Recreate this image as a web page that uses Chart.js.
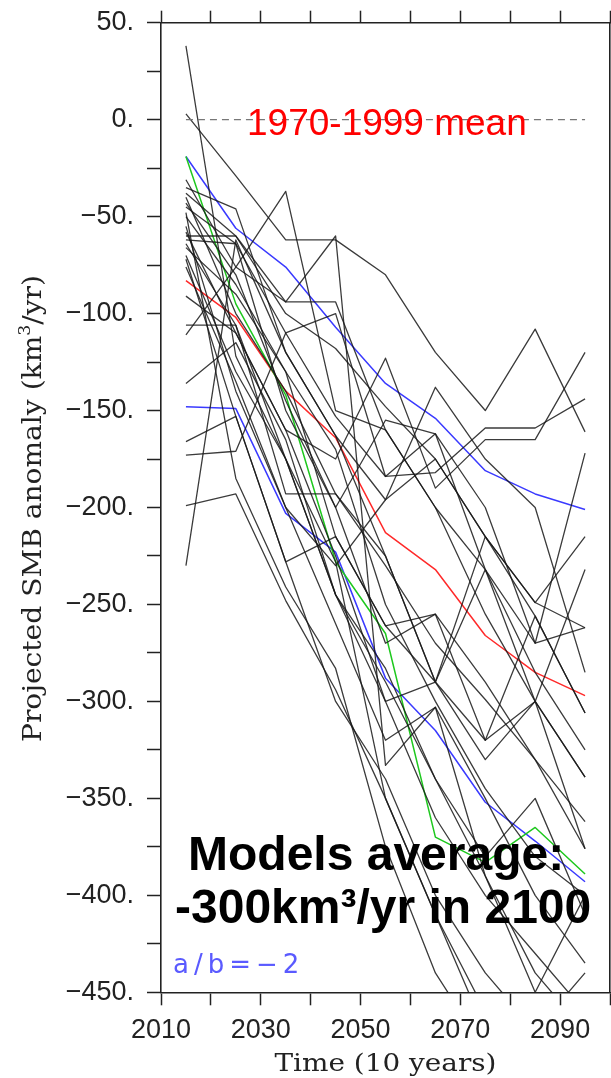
<!DOCTYPE html>
<html>
<head>
<meta charset="utf-8">
<script src="https://cdn.jsdelivr.net/npm/chart.js@4.4.1/dist/chart.umd.min.js"></script>
<style>
  html, body { margin: 0; padding: 0; background: #fff; }
</style>
</head>
<body>
<canvas id="smbChart" width="611" height="1078"></canvas>
<script>
// decade midpoints
const decades = [2015, 2025, 2035, 2045, 2055, 2065, 2075, 2085, 2095];

// individual model runs (km3/yr)
const modelRuns = [
  [38, -122, -175, -245, -283, -340, -390, -440, -470],
  [3, -29, -62, -62, -80, -120, -150, -108, -161],
  [-31, -76, -37, -150, -160, -200, -255, -300, -339],
  [-35, -46, -120, -163, -196, -175, -215, -256, -306],
  [-38, -60, -94, -60, -333, -303, -350, -400, -435],
  [-40, -100, -140, -193, -225, -290, -232, -300, -232],
  [-45, -64, -110, -153, -184, -182, -159, -159, -144],
  [-50, -85, -130, -215, -261, -290, -215, -249, -215],
  [-58, -110, -160, -175, -123, -190, -165, -165, -120],
  [-60, -60, -100, -118, -148, -175, -215, -249, -262],
  [-62, -64, -150, -200, -155, -162, -200, -270, -172],
  [-64, -106, -193, -193, -230, -270, -299, -330, -376],
  [-70, -130, -175, -245, -290, -340, -380, -350, -410],
  [-76, -135, -200, -230, -196, -138, -175, -200, -285],
  [-91, -110, -160, -225, -300, -360, -400, -430, -460],
  [-106, -106, -175, -228, -350, -410, -460, -480, -480],
  [-111, -76, -94, -94, -160, -200, -232, -285, -325],
  [-136, -115, -165, -245, -300, -290, -330, -300, -339],
  [-166, -153, -228, -215, -261, -255, -320, -300, -376],
  [-173, -171, -110, -100, -184, -162, -232, -270, -262],
  [-199, -193, -248, -294, -350, -410, -470, -490, -490],
  [-230, -62, -120, -163, -225, -290, -320, -256, -306],
  [-48, -185, -241, -283, -375, -440, -480, -480, -470],
  [-55, -140, -200, -260, -320, -303, -390, -450, -400],
  [-66, -90, -130, -170, -250, -300, -345, -380, -400],
  [-72, -153, -228, -300, -340, -400, -440, -470, -440],
  [-43, -80, -145, -200, -270, -255, -290, -330, -362]
];

const modelsMean = [-83, -102, -140, -164, -213, -232, -266, -285, -297];
const fitUpper = [-19, -56, -76, -107, -136, -154, -181, -193, -201];
const fitLower = [-148, -149, -203, -223, -288, -315, -352, -372, -393];
const highRun = [-19, -95, -142, -228, -265, -370, -383, -365, -389];
const refMean = [0, 0, 0, 0, 0, 0, 0, 0, 0];

const xLabelYears = [2010, 2030, 2050, 2070, 2090];
const yLabelValues = [50, 0, -50, -100, -150, -200, -250, -300, -350, -400, -450];

const toPoints = vals => decades.map((x, i) => ({ x, y: vals[i] }));

const datasets = [];
datasets.push({
  data: toPoints(refMean), borderColor: '#777', borderWidth: 1.2,
  borderDash: [7, 5], pointRadius: 0
});
modelRuns.forEach(run => datasets.push({
  data: toPoints(run), borderColor: 'rgba(25,25,25,0.85)', borderWidth: 1.3, pointRadius: 0
}));
datasets.push({ data: toPoints(highRun), borderColor: '#1ec81e', borderWidth: 1.5, pointRadius: 0 });
datasets.push({ data: toPoints(fitUpper), borderColor: '#3a3aff', borderWidth: 1.5, pointRadius: 0 });
datasets.push({ data: toPoints(fitLower), borderColor: '#3a3aff', borderWidth: 1.5, pointRadius: 0 });
datasets.push({ data: toPoints(modelsMean), borderColor: '#ff2a2a', borderWidth: 1.5, pointRadius: 0 });

const tickFont = { family: 'Liberation Sans', size: 27 };
const fmtY = v => v === 0 ? '0.' : (v < 0 ? '\u2212' + Math.abs(v) + '.' : v + '.');

// fixed axis box sizes, no label overflow padding
const fixBox = (w, h) => s => {
  if (w !== null) s.width = w;
  if (h !== null) s.height = h;
  s.paddingTop = 0; s.paddingBottom = 0; s.paddingLeft = 0; s.paddingRight = 0;
};
const decadeTicks = s => { s.ticks = []; for (let v = 2010; v <= 2100; v += 10) s.ticks.push({ value: v }); };

// titles and text notes
const notes = {
  id: 'notes',
  afterDatasetsDraw(chart) {
    const ctx = chart.ctx;
    const area = chart.chartArea;
    ctx.save();

    ctx.fillStyle = '#ff0000';
    ctx.font = '37px "Liberation Sans"';
    ctx.textBaseline = 'alphabetic';
    ctx.textAlign = 'left';
    ctx.fillText('1970-1999 mean', 247, 135);

    ctx.fillStyle = '#000';
    ctx.font = 'bold 48px "Liberation Sans"';
    ctx.fillText('Models average:', 188, 870);
    ctx.fillText('-300km\u00b3/yr in 2100', 175, 923);

    ctx.fillStyle = '#5a5aff';
    ctx.font = '26px "DejaVu Sans"';
    ctx.letterSpacing = '5px';
    ctx.fillText('a/b=\u22122', 173, 973);
    ctx.letterSpacing = '0px';

    // x title
    ctx.fillStyle = '#222';
    ctx.font = '24px "DejaVu Serif"';
    const xt = 'Time (10 years)';
    const xw = ctx.measureText(xt).width;
    ctx.save();
    ctx.translate((area.left + area.right) / 2, 1071);
    ctx.scale(222 / xw, 1);
    ctx.textAlign = 'center';
    ctx.fillText(xt, 0, 0);
    ctx.restore();

    // y title with superscript 3
    const big = '26px "DejaVu Serif"', small = '16px "DejaVu Serif"';
    ctx.font = big;
    const a = 'Projected SMB anomaly (km', c = '/yr)';
    const wa = ctx.measureText(a).width, wc = ctx.measureText(c).width;
    ctx.font = small;
    const wb = ctx.measureText('3').width;
    const total = wa + wb + wc;
    ctx.save();
    ctx.translate(41, 508.5);
    ctx.rotate(-Math.PI / 2);
    ctx.scale(467 / total, 1);
    ctx.textAlign = 'left';
    const x0 = -total / 2;
    ctx.font = big;
    ctx.fillText(a, x0, 0);
    ctx.font = small;
    ctx.fillText('3', x0 + wa, -11);
    ctx.font = big;
    ctx.fillText(c, x0 + wa + wb, 0);
    ctx.restore();

    ctx.restore();
  }
};

new Chart(document.getElementById('smbChart'), {
  type: 'line',
  data: { datasets },
  plugins: [notes],
  options: {
    responsive: false,
    animation: false,
    events: [],
    layout: { padding: 0 },
    plugins: { legend: { display: false }, tooltip: { enabled: false } },
    elements: { line: { tension: 0, borderJoinStyle: 'round' } },
    scales: {
      x: {
        type: 'linear', position: 'bottom', min: 2010, max: 2100,
        afterBuildTicks: decadeTicks,
        ticks: {
          autoSkip: false, maxRotation: 0, font: tickFont, color: '#222', padding: 9,
          callback: v => xLabelYears.includes(v) ? String(v) : ''
        },
        grid: { drawOnChartArea: false, tickLength: 13, tickColor: '#222', tickWidth: 1.5 },
        border: { color: '#222', width: 1.6 },
        afterFit: fixBox(null, 85.7)
      },
      xTop: {
        type: 'linear', position: 'top', min: 2010, max: 2100,
        afterBuildTicks: decadeTicks,
        ticks: { autoSkip: false, maxRotation: 0, callback: () => '' },
        grid: { drawOnChartArea: false, tickLength: 12, tickColor: '#222', tickWidth: 1.5 },
        border: { color: '#222', width: 1.6 },
        afterFit: fixBox(null, 22.7)
      },
      y: {
        type: 'linear', position: 'left', min: -450, max: 50,
        afterBuildTicks: s => { s.ticks = []; for (let v = -450; v <= 50; v += 25) s.ticks.push({ value: v }); },
        ticks: {
          autoSkip: false, font: tickFont, color: '#222', padding: 13,
          callback: v => yLabelValues.includes(v) ? fmtY(v) : ''
        },
        grid: { drawOnChartArea: false, tickLength: 14, tickColor: '#222', tickWidth: 1.5 },
        border: { color: '#222', width: 1.6 },
        afterFit: fixBox(161, null)
      },
      yRight: {
        type: 'linear', position: 'right', min: -450, max: 50,
        ticks: { display: false },
        grid: { display: false },
        border: { color: '#222', width: 1.6 },
        afterFit: fixBox(1, null)
      }
    }
  }
});
</script>
</body>
</html>
